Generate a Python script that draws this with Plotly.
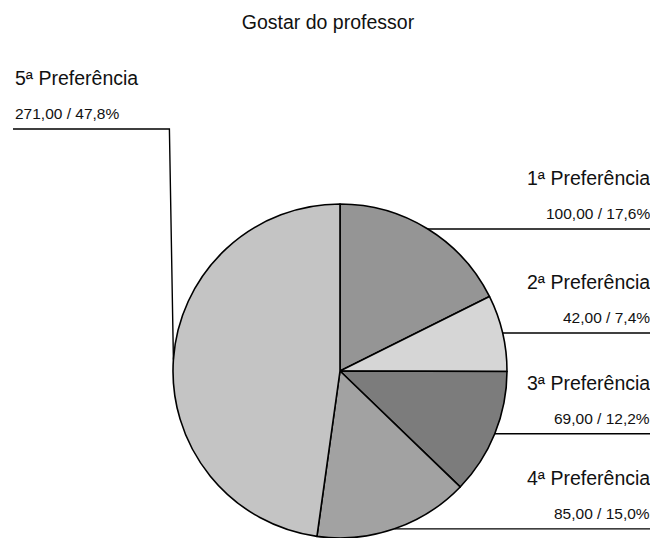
import math
import plotly.graph_objects as go

labels = ["1ª Preferência", "2ª Preferência", "3ª Preferência", "4ª Preferência", "5ª Preferência"]
values = [100, 42, 69, 85, 271]
colors = ["#959595", "#d6d6d6", "#7c7c7c", "#a2a2a2", "#c4c4c4"]
title = "Gostar do professor"

# the page body has an 8px margin, so the figure starts at (8, 8) in the window
OFF = 8
W, H = 658 - OFF, 538 - OFF
CX, R = 340, 167
CY = 538 - R  # pie sits on the bottom of the window


def px(x):
    return (x - OFF) / W


def py(y):
    return 1 - (y - OFF) / H


def fmt(v, pct):
    return "{:.2f}".format(v).replace(".", ",") + " / " + "{:.1f}".format(pct).replace(".", ",") + "%"


total = sum(values)

fig = go.Figure(go.Pie(
    labels=labels,
    values=values,
    sort=False,
    direction="clockwise",
    rotation=0,
    textinfo="none",
    hoverinfo="label+value+percent",
    marker=dict(colors=colors, line=dict(color="#000000", width=1.6)),
    domain=dict(x=[px(CX - R), px(CX + R)], y=[0, 2 * R / H]),
    showlegend=False,
))

shapes = []
annotations = []
cum = 0
for lab, v in zip(labels, values):
    mid = (cum + v / 2) / total * 2 * math.pi
    cum += v
    ex = CX + R * math.sin(mid)
    ey = CY - R * math.cos(mid)
    pct = v / total * 100
    if ex > CX:
        # label on the right, line runs to the page edge
        ly = ey
        shapes.append(dict(type="line", xref="paper", yref="paper",
                           x0=px(ex), y0=py(ly), x1=1, y1=py(ly),
                           line=dict(color="#000000", width=1.4)))
        xa, anchor = px(652), "right"
    else:
        # big slice: label up in the top-left corner
        ly = 129
        shapes.append(dict(type="path", xref="paper", yref="paper",
                           path="M {} {} L {} {} L {} {}".format(
                               px(13), py(ly), px(ex - 4), py(ly), px(ex), py(ey)),
                           line=dict(color="#000000", width=1.4)))
        xa, anchor = px(13), "left"
    annotations.append(dict(text=lab, x=xa, y=py(ly - 51), xref="paper", yref="paper",
                            xanchor=anchor, yanchor="middle", showarrow=False,
                            font=dict(size=19.5, color="#111111")))
    annotations.append(dict(text=fmt(v, pct), x=xa, y=py(ly - 15), xref="paper", yref="paper",
                            xanchor=anchor, yanchor="middle", showarrow=False,
                            font=dict(size=15.5, color="#111111")))

fig.update_layout(
    width=W, height=H,
    margin=dict(l=0, r=0, t=0, b=0),
    paper_bgcolor="white",
    font=dict(family="Liberation Sans, Arial, sans-serif"),
    title=dict(text=title, x=px(328), xanchor="center", y=py(22), yanchor="middle",
               font=dict(size=19.5, color="#111111")),
    shapes=shapes,
    annotations=annotations,
)

fig.write_html("out.html")
